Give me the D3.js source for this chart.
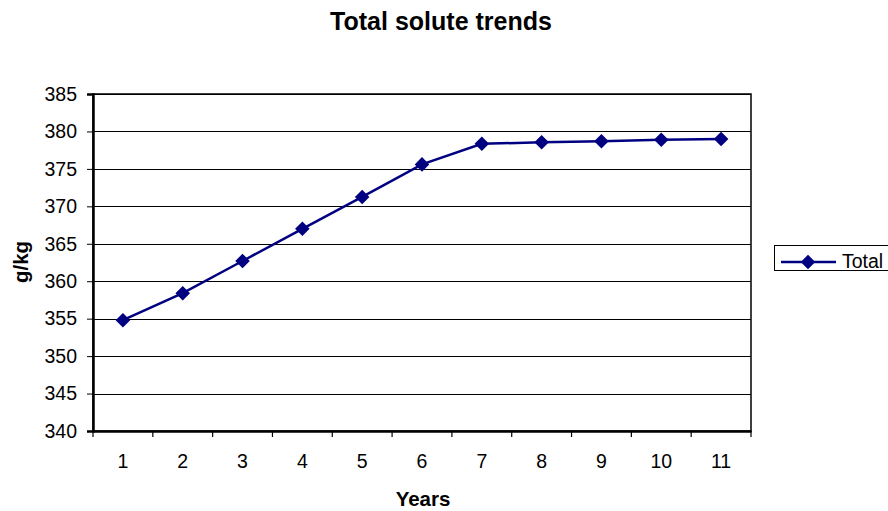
<!DOCTYPE html>
<html><head><meta charset="utf-8">
<script src="https://cdn.jsdelivr.net/npm/d3@7"></script>
<style>body{margin:0;background:#fff;}svg{display:block;font-family:"Liberation Sans",Arial,sans-serif;}</style>
</head><body>
<script>
const categories = ["1","2","3","4","5","6","7","8","9","10","11"];
const totalValues = [354.8, 358.4, 362.7, 367.0, 371.25, 375.6, 378.35, 378.55, 378.7, 378.9, 379.0];
const yTicks = [340,345,350,355,360,365,370,375,380,385];
const seriesName = "Total";

const W=888,H=511;
const svg=d3.select("body").append("svg").attr("width",W).attr("height",H);
const L=93,R=751,T=94,B=431;
const x=d3.scaleBand().domain(categories).range([L,R]);
const y=d3.scaleLinear().domain([340,385]).range([B,T]);
const FF="Liberation Sans, Arial, sans-serif";

// gridlines
svg.append("g").selectAll("line").data(yTicks.slice(1)).join("line")
 .attr("x1",L).attr("x2",R).attr("y1",d=>Math.round(y(d))+0.5).attr("y2",d=>Math.round(y(d))+0.5)
 .attr("stroke","#000").attr("stroke-width",1);
// plot border
svg.append("rect").attr("x",L).attr("y",T).attr("width",R-L).attr("height",B-T)
 .attr("fill","none").attr("stroke","#000").attr("stroke-width",1.5);

// y axis
const ya=svg.append("g").attr("transform",`translate(${L},0)`)
 .call(d3.axisLeft(y).tickValues(yTicks).tickSize(6).tickPadding(10).tickFormat(d3.format("d")));
ya.select(".domain").attr("stroke","#000").attr("stroke-width",2.5);
ya.selectAll("text").attr("font-size","19.5px").attr("fill","#000").attr("font-family",FF);
// x axis
const xa=svg.append("g").attr("transform",`translate(0,${B})`)
 .call(d3.axisBottom(x).tickSize(0).tickPadding(23));
xa.select(".domain").attr("stroke","#000").attr("stroke-width",2.5);
xa.selectAll("text").attr("font-size","19.5px").attr("fill","#000").attr("font-family",FF);
// x tick marks at category boundaries
const bounds=categories.map(c=>x(c)).concat([R]);
svg.append("g").selectAll("line").data(bounds).join("line")
 .attr("x1",d=>d).attr("x2",d=>d).attr("y1",B).attr("y2",B+6).attr("stroke","#000").attr("stroke-width",1.2);

// line + markers
const cx=c=>x(c)+x.bandwidth()/2;
const pts=categories.map((c,i)=>[cx(c),y(totalValues[i])]);
svg.append("path").attr("d",d3.line()(pts)).attr("fill","none").attr("stroke","#000080").attr("stroke-width",2.5);
const diamond=d3.symbol().type(d3.symbolDiamond2).size(135);
svg.append("g").selectAll("path").data(pts).join("path")
 .attr("transform",d=>`translate(${d[0]},${d[1]})`).attr("d",diamond).attr("fill","#000080");

// titles
svg.append("text").attr("x",441).attr("y",30).attr("text-anchor","middle")
 .attr("font-size","25px").attr("font-weight","bold").text("Total solute trends");
svg.append("text").attr("x",423).attr("y",506).attr("text-anchor","middle")
 .attr("font-size","20.5px").attr("font-weight","bold").text("Years");
svg.append("text").attr("transform","translate(28,262) rotate(-90)").attr("text-anchor","middle")
 .attr("font-size","20.5px").attr("font-weight","bold").text("g/kg");

// legend
const lg=svg.append("g");
lg.append("rect").attr("x",774.5).attr("y",245.5).attr("width",120).attr("height",25)
 .attr("fill","#fff").attr("stroke","#000").attr("stroke-width",1);
lg.append("line").attr("x1",781).attr("x2",836).attr("y1",262).attr("y2",262).attr("stroke","#000080").attr("stroke-width",2.5);
lg.append("path").attr("transform","translate(808,262)").attr("d",diamond).attr("fill","#000080");
lg.append("text").attr("x",842).attr("y",268).attr("font-size","19.5px").text(seriesName);
</script>
</body></html>
